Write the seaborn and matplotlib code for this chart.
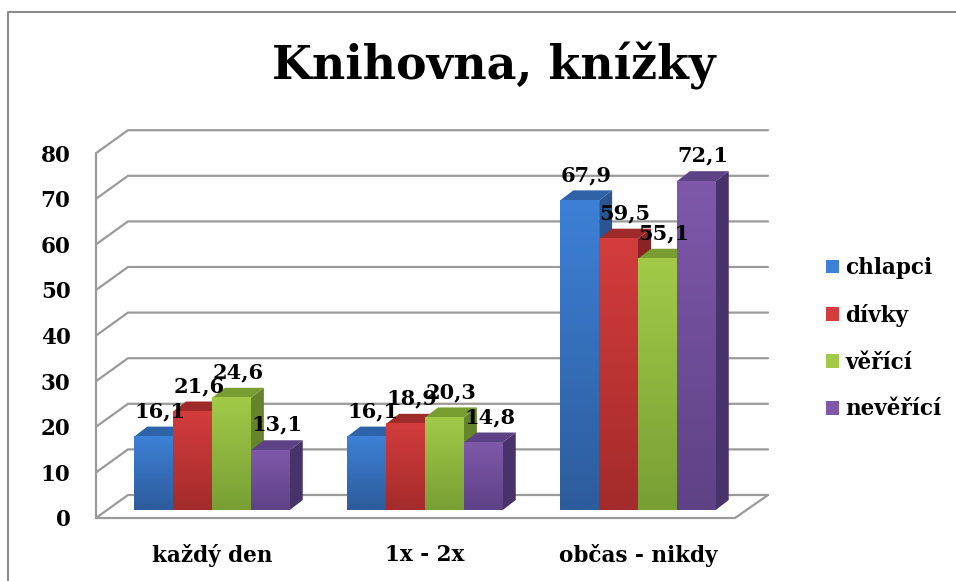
import numpy as np
import pandas as pd
import matplotlib.pyplot as plt
import matplotlib.patches as mpatches
from matplotlib.lines import Line2D
import seaborn as sns

categories = ['každý den', '1x - 2x', 'občas - nikdy']
groups = ['chlapci', 'dívky', 'věřící', 'nevěřící']
chlapci = [16.1, 16.1, 67.9]
divky = [21.6, 18.9, 59.5]
verici = [24.6, 20.3, 55.1]
neverici = [13.1, 14.8, 72.1]
y_ticks = [0, 10, 20, 30, 40, 50, 60, 70, 80]

# colours: front top, front bottom, side, top face
front_top = ['#3D80D6', '#D33C3C', '#A2CA48', '#7F58AA']
front_bot = ['#2D5C9C', '#A42B2B', '#789F34', '#5E4286']
side_col = ['#2A5590', '#8A2424', '#64852A', '#48326A']
lid_col = ['#2F63A8', '#9E2A2A', '#789E32', '#5D4286']

sns.set_theme(style='white')
plt.rcParams['font.family'] = ['DejaVu Serif']
plt.rcParams['font.weight'] = 'bold'
plt.rcParams['text.color'] = 'black'
plt.rcParams['xtick.color'] = 'black'
plt.rcParams['ytick.color'] = 'black'

df = pd.DataFrame({
    'kategorie': categories * 4,
    'skupina': np.repeat(groups, 3),
    'hodnota': chlapci + divky + verici + neverici,
})

fig = plt.figure(figsize=(9.56, 5.81), dpi=100)
W, H = 956, 581
# pixel layout
px_per_cat = 213.0
px_per_val = 4.56
cat0_px = 212.0
base_px = 510.0
left_px, right_px, top_px, bot_px = 90, 775, 118, 530
ax = fig.add_axes([left_px / W, 1 - bot_px / H, (right_px - left_px) / W, (bot_px - top_px) / H])

sns.barplot(data=df, x='kategorie', y='hodnota', hue='skupina', order=categories,
            hue_order=groups, palette=front_top, saturation=1, width=0.73,
            legend=False, ax=ax, linewidth=0)

def cx(px):
    return (px - cat0_px) / px_per_cat

def vy(dpx):
    return dpx / px_per_val

xlim = (cx(left_px), cx(right_px))
ylim = (-vy(bot_px - base_px), vy(base_px - top_px))

# walls and gridlines
fl, bl, br, fr = cx(96), cx(128), cx(768), cx(735)
fdy, bdy = -vy(8), vy(15)
gcol = '#9A9A9A'
for v in y_ticks:
    ax.plot([fl, bl, br], [v + fdy, v + bdy, v + bdy], color=gcol, lw=1.6, zorder=1,
            solid_joinstyle='miter')
ax.plot([fl, fl], [fdy, y_ticks[-1] + fdy], color=gcol, lw=1.6, zorder=1)
ax.plot([fl, fr, br], [fdy, fdy, bdy], color=gcol, lw=1.6, zorder=1)

# 3D faces
ddx = 13 / px_per_cat
ddy = vy(10)
bars = []
for i, cont in enumerate(ax.containers):
    for p in cont:
        bars.append((p.get_x(), i, p))
bars.sort(key=lambda t: t[0])
for k, (_, i, p) in enumerate(bars):
    x0, w, h = p.get_x(), p.get_width(), p.get_height()
    z = 3 + 3 * k
    side = mpatches.Polygon([(x0 + w, 0), (x0 + w + ddx, ddy), (x0 + w + ddx, h + ddy), (x0 + w, h)],
                            closed=True, facecolor=side_col[i], edgecolor='none', zorder=z)
    lid = mpatches.Polygon([(x0, h), (x0 + ddx, h + ddy), (x0 + w + ddx, h + ddy), (x0 + w, h)],
                           closed=True, facecolor=lid_col[i], edgecolor='none', zorder=z)
    ax.add_patch(side)
    ax.add_patch(lid)
    p.set_zorder(z + 1)
    c1 = np.array(plt.matplotlib.colors.to_rgb(front_top[i]))
    c2 = np.array(plt.matplotlib.colors.to_rgb(front_bot[i]))
    t = np.linspace(0, 1, 64)[:, None, None]
    grad = c1 * (1 - t) + c2 * t
    ax.imshow(grad, extent=[x0, x0 + w, 0, h], aspect='auto', zorder=z + 2, interpolation='bilinear')
    ax.text(x0 + w / 2 + ddx / 2, h + ddy + 1.2, f'{h:.1f}'.replace('.', ','),
            ha='center', va='bottom', fontsize=15, fontweight='bold', color='black', zorder=200)

ax.set_xlim(xlim)
ax.set_ylim(ylim)
ax.set_aspect('auto')
for s in ax.spines.values():
    s.set_visible(False)
ax.set_yticks([v + fdy for v in y_ticks], labels=[str(v) for v in y_ticks])
ax.set_xticks(range(len(categories)), labels=categories)
ax.tick_params(axis='y', length=0, pad=14, labelsize=15.5)
ax.tick_params(axis='x', length=0, pad=10, labelsize=15.5)
ax.set_xlabel('')
ax.set_ylabel('')
ax.patch.set_alpha(0)

fig.text(0.516, 1 - 66 / H, 'Knihovna, knížky', ha='center', va='center',
         fontsize=33, fontweight='bold', color='black')

handles = [mpatches.Patch(facecolor=front_top[i], edgecolor='none') for i in range(4)]
fig.legend(handles, groups, loc='upper left', bbox_to_anchor=(826 / W, 1 - 257 / H),
           frameon=False, fontsize=15.5, handlelength=0.6, handleheight=0.6,
           handletextpad=0.3, labelspacing=1.15, borderaxespad=0, borderpad=0)

# outer frame
fig.add_artist(Line2D([8 / W, 8 / W, 1], [0, 1 - 12 / H, 1 - 12 / H], color='#8C8C8C',
                      lw=1.5, transform=fig.transFigure))

fig.savefig('out.png', dpi=100)
